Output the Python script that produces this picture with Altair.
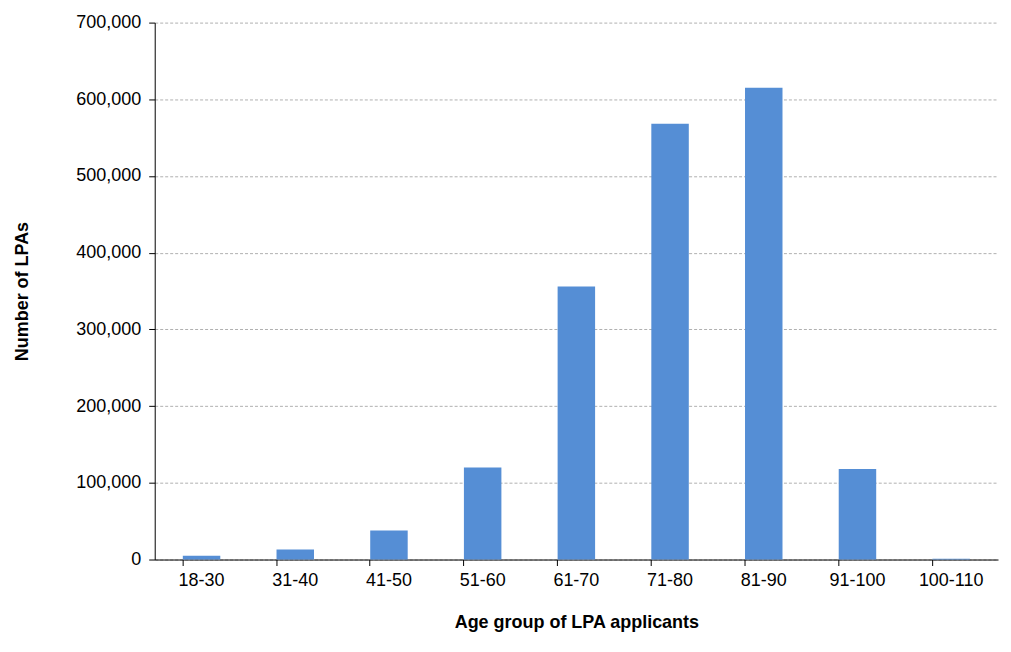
import altair as alt
import pandas as pd

age_groups = ["18-30", "31-40", "41-50", "51-60", "61-70", "71-80", "81-90", "91-100", "100-110"]
lpa_counts = [5000, 13000, 38000, 120000, 356000, 568000, 615000, 118000, 1000]

df = pd.DataFrame({"age": age_groups, "count": lpa_counts})

FONT = "Liberation Sans"

chart = alt.Chart(df).mark_bar(color="#558ED5").encode(
    x=alt.X(
        "age:N", sort=age_groups, title="Age group of LPA applicants",
        scale=alt.Scale(paddingInner=0.6, paddingOuter=0.3),
        axis=alt.Axis(labelAngle=0, labelFontSize=18, titleFontSize=18, titleFontWeight="bold",
                      domainColor="black", tickColor="black", tickSize=6,
                      bandPosition=0, titlePadding=24, labelPadding=6, labelFont=FONT, titleFont=FONT,
                      labelColor="black", titleColor="black"),
    ),
    y=alt.Y(
        "count:Q", title="Number of LPAs",
        scale=alt.Scale(domain=[0, 700000]),
        axis=alt.Axis(values=list(range(0, 700001, 100000)), format=",.0f", labelFontSize=18,
                      titleFontSize=18, titleFontWeight="bold", domainColor="black", tickColor="black",
                      tickSize=6, gridColor="#b0b0b0", gridDash=[3, 2], titlePadding=44,
                      labelPadding=8, labelFont=FONT, titleFont=FONT, labelColor="black",
                      titleColor="black"),
    ),
).properties(width=845, height=538).configure_view(stroke=None).configure_axisX(grid=False)

chart.save("out.html", embed_options={"renderer": "svg", "actions": False})
